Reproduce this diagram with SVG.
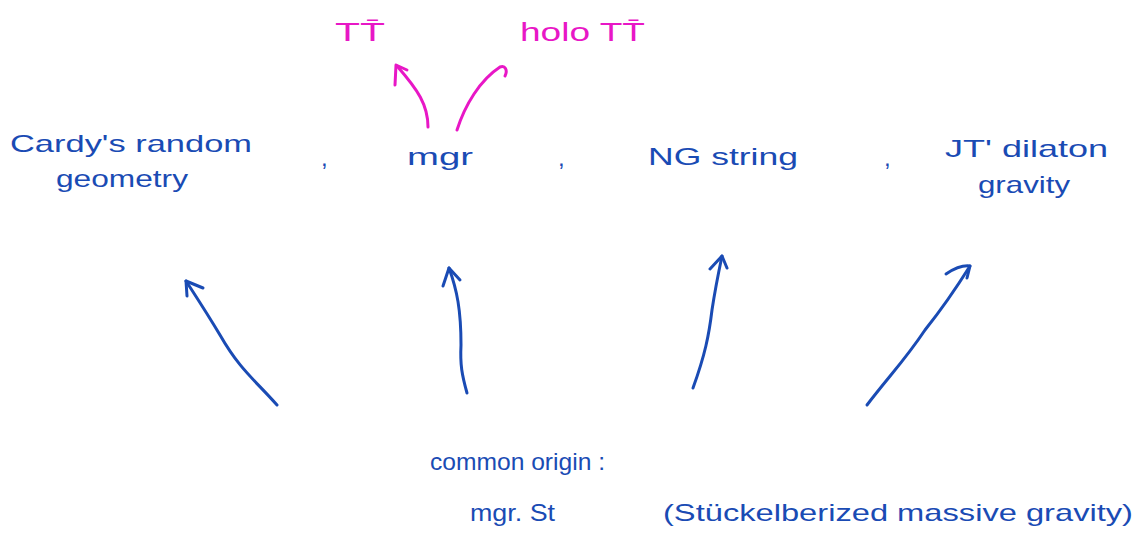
<svg xmlns="http://www.w3.org/2000/svg" width="1136" height="537" viewBox="0 0 1136 537">
<style>
.t{font-family:"Liberation Sans",Arial,sans-serif;font-size:24px;fill:#1a4bb4}
.m{font-family:"Liberation Sans",Arial,sans-serif;font-size:26px;fill:#e817c6}
.b{fill:none;stroke:#1a4bb4;stroke-width:3;stroke-linecap:round;stroke-linejoin:round}
.p{fill:none;stroke:#e817c6;stroke-width:3;stroke-linecap:round;stroke-linejoin:round}
</style>
<rect width="1136" height="537" fill="#ffffff"/>
<g id="tt"><text class="m" x="335" y="41" textLength="50" lengthAdjust="spacingAndGlyphs">TT̄</text></g>
<g id="holo-tt"><text class="m" x="520" y="41" textLength="125" lengthAdjust="spacingAndGlyphs">holo TT̄</text></g>
<g id="cardy">
<text class="t" x="10" y="152" textLength="242" lengthAdjust="spacingAndGlyphs">Cardy's random</text>
<text class="t" x="56" y="187" textLength="132" lengthAdjust="spacingAndGlyphs">geometry</text>
</g>
<g id="comma1"><text class="t" x="321" y="166">,</text></g>
<g id="mgr"><text class="t" x="407" y="165" textLength="66" lengthAdjust="spacingAndGlyphs">mgr</text></g>
<g id="comma2"><text class="t" x="558" y="166">,</text></g>
<g id="ng"><text class="t" x="648" y="165" textLength="150" lengthAdjust="spacingAndGlyphs">NG string</text></g>
<g id="comma3"><text class="t" x="884" y="166">,</text></g>
<g id="jt">
<text class="t" x="945" y="157" textLength="163" lengthAdjust="spacingAndGlyphs">JT' dilaton</text>
<text class="t" x="978" y="193" textLength="92" lengthAdjust="spacingAndGlyphs">gravity</text>
</g>
<g id="origin">
<text class="t" x="430" y="470" textLength="175" lengthAdjust="spacingAndGlyphs">common origin :</text>
<text class="t" x="470" y="521" textLength="85" lengthAdjust="spacingAndGlyphs">mgr. St</text>
<text class="t" x="663" y="521" textLength="470" lengthAdjust="spacingAndGlyphs">(Stückelberized massive gravity)</text>
</g>
<g id="connectors">
<path class="b" d="M277,405 C255,380 240,370 220,335 C205,310 195,295 186,281"/>
<path class="b" d="M187,296 L186,281 L203,288"/>
<path class="b" d="M467,393 C462,375 460,365 461,345 C461,310 457,290 449,268"/>
<path class="b" d="M443,286 L449,268 L460,280"/>
<path class="b" d="M693,388 C705,355 709,335 712,310 C715,290 718,275 722,256"/>
<path class="b" d="M710,269 L722,256 L727,268"/>
<path class="b" d="M867,405 C890,375 905,360 925,330 C945,305 955,290 970,266"/>
<path class="b" d="M946,274 C955,268 962,265 970,266 L967,278"/>
<path class="p" d="M428,127 C428,105 418,90 397,66"/>
<path class="p" d="M395,85 L396,65 L407,70"/>
<path class="p" d="M457,130 C465,105 480,80 500,67 C505,65 508,70 505,76"/>
</g>
</svg>
